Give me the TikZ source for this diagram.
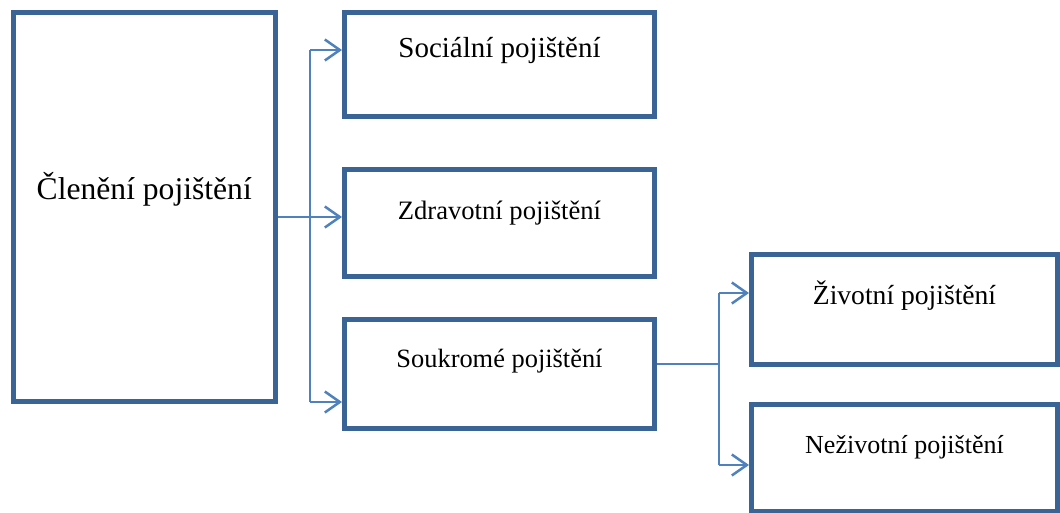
\documentclass[tikz,border=0pt]{standalone}
\usepackage{fontspec}
\setmainfont{Liberation Serif}
\usetikzlibrary{arrows.meta}
\definecolor{boxblue}{RGB}{58,99,150}
\definecolor{linkblue}{RGB}{79,129,189}
\tikzset{
  box/.style={draw=boxblue, line width=5pt, rectangle, inner sep=0pt},
  conn/.style={draw=linkblue, line width=2pt},
  arr/.style={conn, -{Straight Barb[length=15pt, width=21pt, line width=2.5pt]}},
  lbl/.style={anchor=base, inner sep=0pt, text=black}
}
\newcommand{\fs}[1]{\fontsize{#1}{#1}\selectfont}
\begin{document}
\begin{tikzpicture}[x=1pt, y=-1pt]
\useasboundingbox (0,0) rectangle (1060,513);
% boxes
\node[box, minimum width=262.5pt, minimum height=388.5pt] (main) at (144.25,207.25) {};
\node[box, minimum width=310pt, minimum height=104pt] (soc) at (499.5,64.5) {};
\node[box, minimum width=310pt, minimum height=107pt] (zdr) at (499.5,223) {};
\node[box, minimum width=310pt, minimum height=109pt] (souk) at (499.5,373.5) {};
\node[box, minimum width=306pt, minimum height=110pt] (ziv) at (904.5,309.5) {};
\node[box, minimum width=306pt, minimum height=107pt] (nez) at (904.5,458) {};
% labels
\node[lbl, font=\fs{31.6}] (tmain) at (144.25,200) {Členění pojištění};
\node[lbl, font=\fs{29}] (tsoc) at (499.5,58) {Sociální pojištění};
\node[lbl, font=\fs{26.6}] (tzdr) at (499.5,220) {Zdravotní pojištění};
\node[lbl, font=\fs{26.4}] (tsouk) at (499.5,367) {Soukromé pojištění};
\node[lbl, font=\fs{27.6}] (tziv) at (904.5,304) {Životní pojištění};
\node[lbl, font=\fs{26}] (tnez) at (904.5,453) {Neživotní pojištění};
% junction coordinates
\coordinate (j0) at (310,217);
\coordinate (j1) at (310,50);
\coordinate (j3) at (310,402);
\coordinate (k0) at (719,364);
\coordinate (k1) at (719,293);
\coordinate (k2) at (719,465);
% connectors
\draw[conn] (main.east |- j0) -- (j0);
\draw[conn] (j1) -- (j3);
\draw[arr] (j1) -- (j1 -| soc.west);
\draw[arr] (j0) -- (j0 -| zdr.west);
\draw[arr] (j3) -- (j3 -| souk.west);
\draw[conn] (souk.east |- k0) -- (k0);
\draw[conn] (k1) -- (k2);
\draw[arr] (k1) -- (k1 -| ziv.west);
\draw[arr] (k2) -- (k2 -| nez.west);
\end{tikzpicture}
\end{document}
